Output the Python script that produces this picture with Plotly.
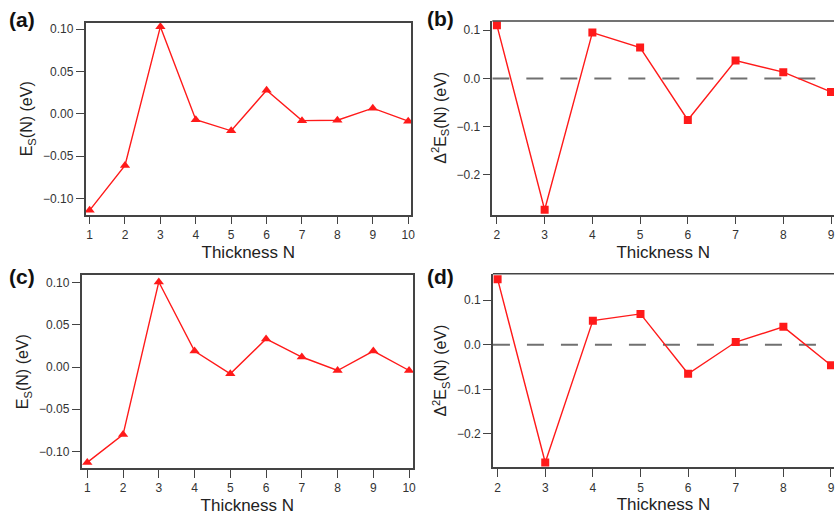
import plotly.graph_objects as go

# ---- data ----
N_a = [1, 2, 3, 4, 5, 6, 7, 8, 9, 10]
Es_a = [-0.114, -0.061, 0.103, -0.007, -0.020, 0.028, -0.008, -0.0075, 0.0067, -0.0086]
N_b = [2, 3, 4, 5, 6, 7, 8, 9]
d2E_b = [0.110, -0.272, 0.095, 0.064, -0.086, 0.037, 0.013, -0.028]
N_c = [1, 2, 3, 4, 5, 6, 7, 8, 9, 10]
Es_c = [-0.113, -0.080, 0.101, 0.019, -0.008, 0.0335, 0.012, -0.004, 0.019, -0.004]
N_d = [2, 3, 4, 5, 6, 7, 8, 9]
d2E_d = [0.147, -0.264, 0.054, 0.069, -0.065, 0.006, 0.040, -0.046]
panel_labels = ["(a)", "(b)", "(c)", "(d)"]
x_title = "Thickness N"
y_title_E = "E<sub>S</sub>(N) (eV)"
y_title_D = "Δ<sup>2</sup>E<sub>S</sub>(N) (eV)"

W, H = 838, 521
RED = "#ff1a1a"
AX = "#444444"
FONT = "Liberation Sans, Arial, sans-serif"

fig = go.Figure()

def px_x(a, b):
    return [a / W, b / W]

def px_y(top, bottom):
    return [1 - bottom / H, 1 - top / H]

panels = [
    dict(x=N_a, y=Es_a, sym="triangle-up", dom_x=px_x(86, 413), dom_y=px_y(22, 214),
         xr=[0.887, 10.08], yr=[-0.119, 0.1074], dtick=0.05, fmt=".2f", ytitle=y_title_E,
         ticks=list(range(1, 11)), box=True, zero=False),
    dict(x=N_b, y=d2E_b, sym="square", dom_x=px_x(494.7, 838), dom_y=px_y(20, 214),
         xr=[1.904, 9.0625], yr=[-0.282, 0.119], dtick=0.1, fmt=".1f", ytitle=y_title_D,
         ticks=list(range(2, 10)), box=False, zero=True),
    dict(x=N_c, y=Es_c, sym="triangle-up", dom_x=px_x(82, 415), dom_y=px_y(275, 467.7),
         xr=[0.841, 10.11], yr=[-0.1194, 0.1087], dtick=0.05, fmt=".2f", ytitle=y_title_E,
         ticks=list(range(1, 11)), box=True, zero=False),
    dict(x=N_d, y=d2E_d, sym="square", dom_x=px_x(495.3, 838), dom_y=px_y(273.3, 467.3),
         xr=[1.902, 9.063], yr=[-0.275, 0.159], dtick=0.1, fmt=".1f", ytitle=y_title_D,
         ticks=list(range(2, 10)), box=False, zero=True),
]

layout = dict(
    width=W, height=H, margin=dict(l=0, r=0, t=0, b=0),
    paper_bgcolor="white", plot_bgcolor="white", showlegend=False,
    font=dict(family=FONT, color="#222"),
)
shapes = []
annotations = []
label_pos = [(22, 19), (443, 18), (22, 276), (443, 276)]

for i, p in enumerate(panels):
    k = "" if i == 0 else str(i + 1)
    xa, ya = "x" + k, "y" + k
    if p["zero"]:
        fig.add_trace(go.Scatter(x=[p["xr"][0], 9], y=[0, 0], mode="lines",
                                 line=dict(color="#707070", width=2, dash="17px,17px"),
                                 xaxis=xa, yaxis=ya, hoverinfo="skip"))
    fig.add_trace(go.Scatter(x=p["x"], y=p["y"], mode="lines+markers",
                             line=dict(color=RED, width=1.4),
                             marker=dict(symbol=p["sym"], size=8 if p["sym"] == "square" else 9,
                                         color=RED),
                             xaxis=xa, yaxis=ya))
    layout["xaxis" + k] = dict(
        domain=p["dom_x"], range=p["xr"], anchor=ya, tickvals=p["ticks"],
        showline=True, linecolor=AX, linewidth=1.5, mirror=p["box"],
        ticks="outside", ticklen=8, tickcolor=AX, tickwidth=1.2,
        showgrid=False, zeroline=False,
        tickfont=dict(size=12, color="#333"),
        title=dict(text=x_title, font=dict(size=17, color="#222"), standoff=5),
    )
    layout["yaxis" + k] = dict(
        domain=p["dom_y"], range=p["yr"], anchor=xa, dtick=p["dtick"], tick0=0,
        tickformat=p["fmt"],
        showline=True, linecolor=AX, linewidth=1.5, mirror=p["box"],
        ticks="outside", ticklen=8, tickcolor=AX, tickwidth=1.2,
        showgrid=False, zeroline=False,
        tickfont=dict(size=12, color="#333"),
        title=dict(text=p["ytitle"], font=dict(size=16, color="#222"), standoff=6),
    )
    if not p["box"]:
        # top frame line only (right edge is cut off in the original)
        shapes.append(dict(type="line", xref="paper", yref="paper",
                           x0=p["dom_x"][0], x1=p["dom_x"][1], y0=p["dom_y"][1], y1=p["dom_y"][1],
                           line=dict(color=AX, width=1.5)))
    lx, ly = label_pos[i]
    annotations.append(dict(text="<b>" + panel_labels[i] + "</b>", x=lx / W, y=1 - ly / H,
                            xref="paper", yref="paper", showarrow=False,
                            font=dict(size=21, color="#111"), xanchor="center", yanchor="middle"))

layout["shapes"] = shapes
layout["annotations"] = annotations
fig.update_layout(**layout)
fig.write_html("out.html")
